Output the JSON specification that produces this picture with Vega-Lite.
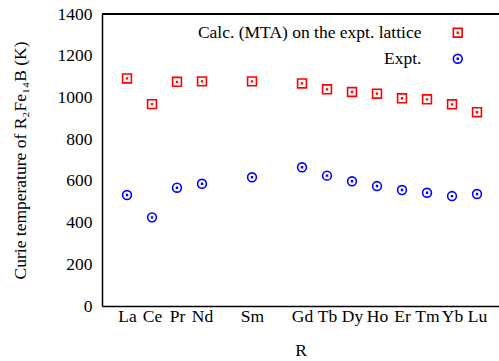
{
  "$schema": "https://vega.github.io/schema/vega-lite/v6.json",
  "width": 397,
  "height": 292,
  "autosize": {"type": "none"},
  "padding": {"left": 102, "top": 14, "right": 0, "bottom": 55},
  "background": "white",
  "config": {
    "font": "Liberation Serif",
    "view": {"stroke": null},
    "axis": {"labelFont": "Liberation Serif", "titleFont": "Liberation Serif", "labelFontSize": 17.5, "titleFontSize": 17.5, "titleFontWeight": "normal", "labelColor": "#000", "titleColor": "#000", "domainColor": "#000", "domainWidth": 1.5, "grid": false, "ticks": false},
    "legend": {"labelFont": "Liberation Serif", "labelFontSize": 17.5, "labelColor": "#000"}
  },
  "data": {
    "values": [
      {"R": "La", "Z": 57, "T": 1091, "series": "Calc. (MTA) on the expt. lattice"},
      {"R": "Ce", "Z": 58, "T": 968, "series": "Calc. (MTA) on the expt. lattice"},
      {"R": "Pr", "Z": 59, "T": 1075, "series": "Calc. (MTA) on the expt. lattice"},
      {"R": "Nd", "Z": 60, "T": 1077, "series": "Calc. (MTA) on the expt. lattice"},
      {"R": "Sm", "Z": 62, "T": 1077, "series": "Calc. (MTA) on the expt. lattice"},
      {"R": "Gd", "Z": 64, "T": 1067, "series": "Calc. (MTA) on the expt. lattice"},
      {"R": "Tb", "Z": 65, "T": 1039, "series": "Calc. (MTA) on the expt. lattice"},
      {"R": "Dy", "Z": 66, "T": 1026, "series": "Calc. (MTA) on the expt. lattice"},
      {"R": "Ho", "Z": 67, "T": 1018, "series": "Calc. (MTA) on the expt. lattice"},
      {"R": "Er", "Z": 68, "T": 996, "series": "Calc. (MTA) on the expt. lattice"},
      {"R": "Tm", "Z": 69, "T": 991, "series": "Calc. (MTA) on the expt. lattice"},
      {"R": "Yb", "Z": 70, "T": 967, "series": "Calc. (MTA) on the expt. lattice"},
      {"R": "Lu", "Z": 71, "T": 929, "series": "Calc. (MTA) on the expt. lattice"},
      {"R": "La", "Z": 57, "T": 532, "series": "Expt."},
      {"R": "Ce", "Z": 58, "T": 425, "series": "Expt."},
      {"R": "Pr", "Z": 59, "T": 567, "series": "Expt."},
      {"R": "Nd", "Z": 60, "T": 586, "series": "Expt."},
      {"R": "Sm", "Z": 62, "T": 617, "series": "Expt."},
      {"R": "Gd", "Z": 64, "T": 665, "series": "Expt."},
      {"R": "Tb", "Z": 65, "T": 625, "series": "Expt."},
      {"R": "Dy", "Z": 66, "T": 598, "series": "Expt."},
      {"R": "Ho", "Z": 67, "T": 575, "series": "Expt."},
      {"R": "Er", "Z": 68, "T": 556, "series": "Expt."},
      {"R": "Tm", "Z": 69, "T": 543, "series": "Expt."},
      {"R": "Yb", "Z": 70, "T": 527, "series": "Expt."},
      {"R": "Lu", "Z": 71, "T": 537, "series": "Expt."}
    ]
  },
  "layer": [
    {
      "mark": {"type": "rule", "color": "#000", "strokeWidth": 1.5},
      "encoding": {"y": {"datum": 1400, "type": "quantitative", "scale": {"domain": [0, 1400]}}}
    },
    {
      "mark": {"type": "point", "filled": false, "strokeWidth": 1.6, "opacity": 1, "size": 78},
      "encoding": {
        "x": {
          "field": "Z", "type": "quantitative",
          "scale": {"domain": [56, 71.88], "nice": false, "zero": false},
          "axis": {
            "title": "R", "titlePadding": 17,
            "labelFont": "Liberation Serif", "titleFont": "Liberation Serif",
            "values": [57, 58, 59, 60, 62, 64, 65, 66, 67, 68, 69, 70, 71],
            "labelExpr": "({'57':'La','58':'Ce','59':'Pr','60':'Nd','62':'Sm','64':'Gd','65':'Tb','66':'Dy','67':'Ho','68':'Er','69':'Tm','70':'Yb','71':'Lu'})[datum.value+'']",
            "labelOverlap": false, "labelFlush": false, "labelPadding": 1
          }
        },
        "y": {
          "field": "T", "type": "quantitative",
          "scale": {"domain": [0, 1400], "nice": false},
          "axis": {"title": "Curie temperature of R₂Fe₁₄B (K)", "format": "d", "labelFont": "Liberation Serif", "titleFont": "Liberation Serif", "values": [0, 200, 400, 600, 800, 1000, 1200, 1400], "labelPadding": 10, "titlePadding": 28, "labelOverlap": false, "labelFlush": false}
        },
        "color": {
          "field": "series", "type": "nominal",
          "scale": {"domain": ["Calc. (MTA) on the expt. lattice", "Expt."], "range": ["#ff0000", "#0000ff"]},
          "legend": {
            "title": null, "orient": "none", "legendX": 347, "legendY": 10,
            "labelAlign": "right", "labelOffset": -45, "labelLimit": 400,
            "symbolSize": 78, "symbolStrokeWidth": 1.6, "rowPadding": 7
          }
        },
        "shape": {
          "field": "series", "type": "nominal",
          "scale": {"domain": ["Calc. (MTA) on the expt. lattice", "Expt."], "range": ["M-1,-1H1V1H-1Z M-0.08,-0.08H0.08V0.08H-0.08Z", "M1,0A1,1 0 1,1 -1,0A1,1 0 1,1 1,0Z M-0.09,-0.09H0.09V0.09H-0.09Z"]},
          "legend": {
            "title": null, "orient": "none", "legendX": 347, "legendY": 10,
            "labelAlign": "right", "labelOffset": -45, "labelLimit": 400,
            "symbolSize": 78, "symbolStrokeWidth": 1.6, "rowPadding": 7
          }
        }
      }
    }
  ]
}
